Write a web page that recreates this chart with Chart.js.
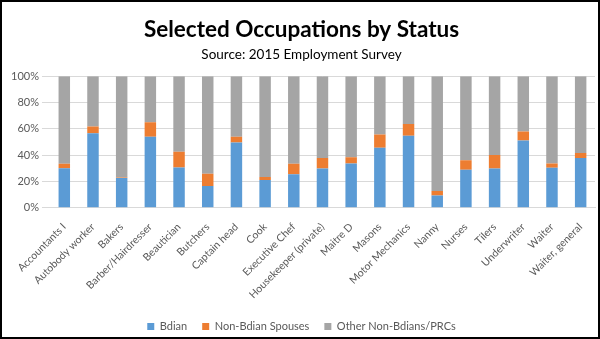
<!DOCTYPE html>
<html>
<head>
<meta charset="utf-8">
<script src="https://cdn.jsdelivr.net/npm/chart.js@4/dist/chart.umd.min.js"></script>
<style>
  html, body { margin: 0; padding: 0; background: #fff; }
  #frame { width: 600px; height: 339px; box-sizing: border-box; border: 2px solid #000; background: #fff; }
  #wrap { position: relative; width: 596px; height: 335px; }
</style>
</head>
<body>
<div id="frame"><div id="wrap"><canvas id="chart"></canvas></div></div>
<script>
// ── Data ─────────────────────────────────────────────────────────────
const occupations = [
  'Accountants I', 'Autobody worker', 'Bakers', 'Barber/Hairdresser', 'Beautician',
  'Butchers', 'Captain head', 'Cook', 'Executive Chef', 'Housekeeper (private)',
  'Maitre D', 'Masons', 'Motor Mechanics', 'Nanny', 'Nurses',
  'Tilers', 'Underwriter', 'Waiter', 'Waiter, general'
];
const bdian      = [30, 56.5, 22.6, 54, 30.5, 16.5, 49.6, 21.1, 25.4, 29.8, 33.6, 45.5, 54.7, 9.2, 28.8, 29.8, 51.1, 30.3, 37.7];
const spouses    = [3.3, 5.3, 0.4, 11, 12, 9.2, 4.4, 2.3, 7.9, 7.9, 4.8, 10.2, 8.9, 3.5, 7.3, 10.2, 6.9, 3.3, 3.8];
const otherPRCs  = [66.7, 38.2, 77, 35, 57.5, 74.3, 46, 76.6, 66.7, 62.3, 61.6, 44.3, 36.4, 87.3, 63.9, 60, 42, 66.4, 58.5];
const seriesNames = ['Bdian', 'Non-Bdian Spouses', 'Other Non-Bdians/PRCs'];
const yTicks = [0, 10, 20, 30, 40, 50, 60, 70, 80, 90, 100];

// ── Chart ────────────────────────────────────────────────────────────
const FONT = "Lato, 'Open Sans', sans-serif";
const TXT = '#595959';

const mkSet = (label, data, color) => ({
  label, data, backgroundColor: color, borderWidth: 0,
  barPercentage: 0.4, categoryPercentage: 1
});

new Chart(document.getElementById('chart'), {
  type: 'bar',
  data: {
    labels: occupations,
    datasets: [
      mkSet(seriesNames[0], bdian, '#5B9BD5'),
      mkSet(seriesNames[1], spouses, '#ED7D31'),
      mkSet(seriesNames[2], otherPRCs, '#A5A5A5'),
    ]
  },
  options: {
    responsive: true, maintainAspectRatio: false, animation: false,
    layout: { padding: { left: 6, right: 3, top: 8, bottom: -5 } },
    plugins: {
      title: {
        display: true, text: 'Selected Occupations by Status', color: '#000',
        font: { family: FONT, size: 22.5, weight: 'bold' }, padding: { top: 6, bottom: 4 }
      },
      subtitle: {
        display: true, text: 'Source: 2015 Employment Survey', color: '#000',
        font: { family: FONT, size: 13.5 }, padding: { top: 0, bottom: 13 }
      },
      legend: {
        position: 'bottom',
        labels: { boxWidth: 7, boxHeight: 7, color: TXT, font: { family: FONT, size: 11 }, padding: 15 }
      },
      tooltip: { enabled: false }
    },
    scales: {
      x: {
        stacked: true,
        grid: { display: false },
        border: { color: '#d9d9d9' },
        ticks: { color: TXT, font: { family: FONT, size: 10.5 }, padding: 5, minRotation: 45, maxRotation: 45, autoSkip: false }
      },
      y: {
        stacked: true, min: 0, max: 100,
        afterBuildTicks: axis => { axis.ticks = yTicks.map(v => ({ value: v })); },
        grid: { color: '#d9d9d9' },
        border: { display: false },
        ticks: { color: TXT, font: { family: FONT, size: 11 }, callback: v => v + '%' }
      }
    }
  }
});
</script>
</body>
</html>
